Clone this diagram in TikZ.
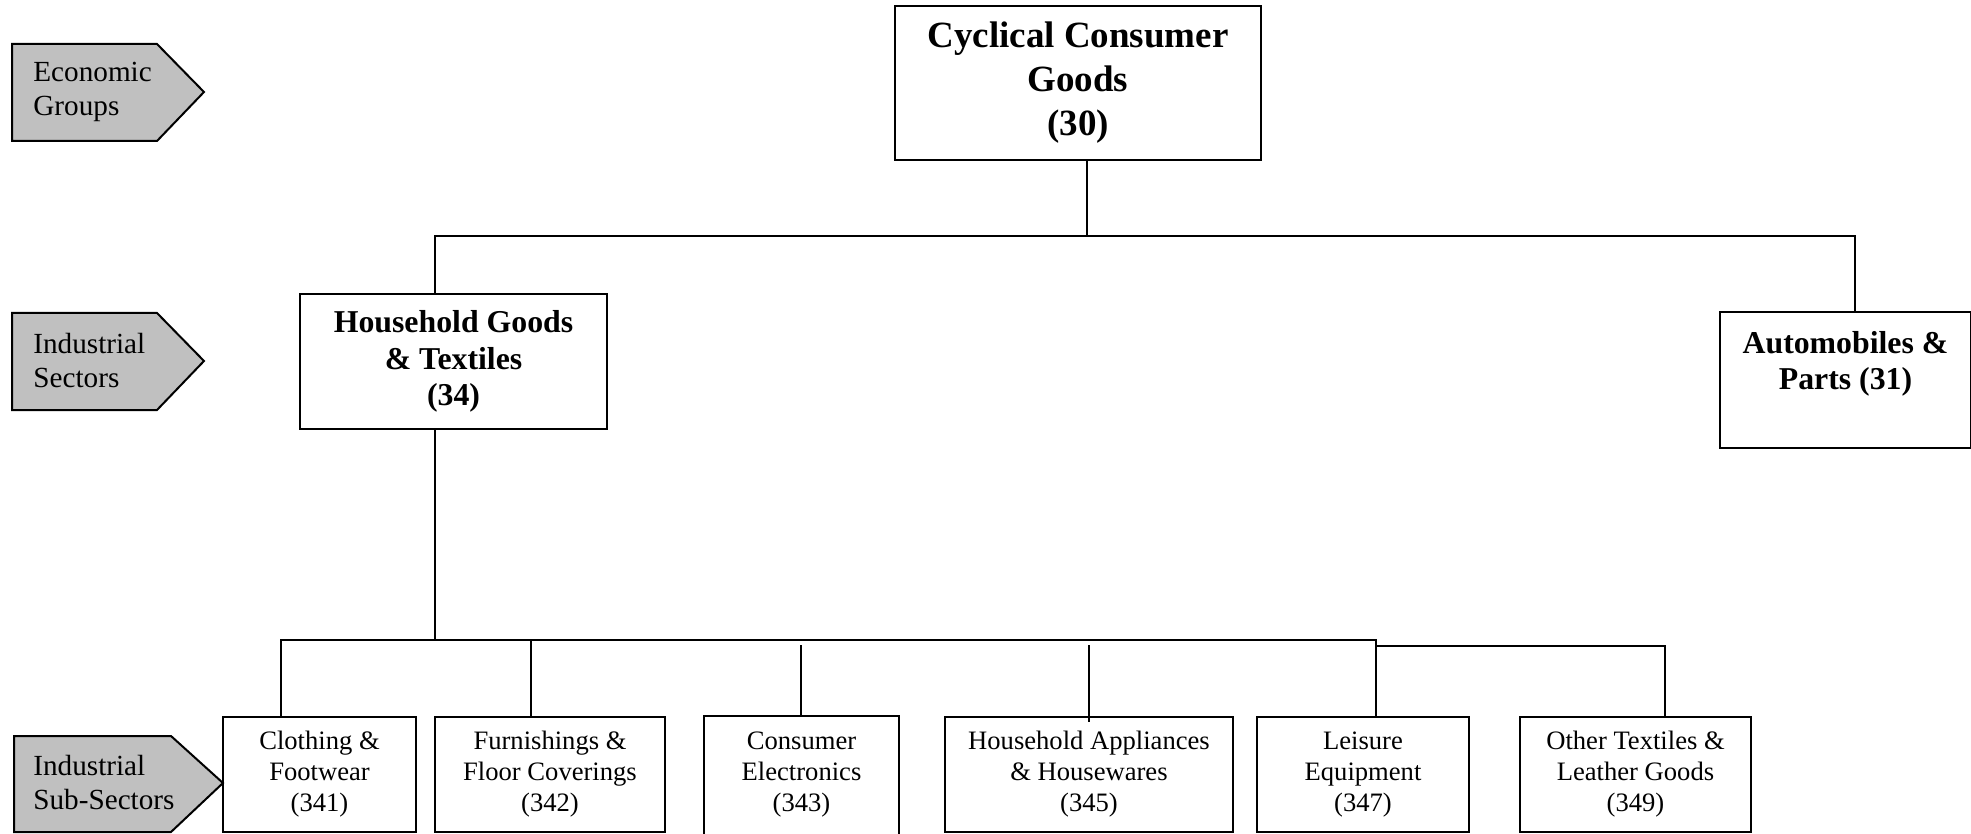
\documentclass[tikz,border=0pt]{standalone}
\usepackage{fontspec}
\setmainfont{Liberation Serif}
\definecolor{tagfill}{RGB}{192,192,192}

\tikzset{
  groupbox/.style={draw, line width=1pt, align=center, inner sep=0pt, font=\fontsize{18.5}{22}\selectfont\bfseries},
  sectorbox/.style={draw, line width=1pt, align=center, inner sep=0pt, font=\fontsize{15.9}{18.3}\selectfont\bfseries},
  subbox/.style={draw, line width=1pt, align=center, inner sep=0pt, minimum height=57.5pt, font=\fontsize{13.3}{15.5}\selectfont},
  tag/.style={draw, line width=1pt, fill=tagfill},
  taglabel/.style={anchor=west, align=left, inner sep=0pt, font=\fontsize{14.6}{17}\selectfont},
  link/.style={line width=0.75pt}
}

\begin{document}
\begin{tikzpicture}[x=0.5pt,y=-0.5pt]
   \useasboundingbox (0,0) rectangle (1971,834);

   % level tags on the left
   \draw[tag] (12,44) -- (157,44) -- (204,92) -- (157,141) -- (12,141) -- cycle;
   \node[taglabel] (econ) at (33,92) {Economic\\Groups};
   \draw[tag] (12,313) -- (157,313) -- (204,361) -- (157,410) -- (12,410) -- cycle;
   \node[taglabel] (indsec) at (33,361) {Industrial\\Sectors};
   \draw[tag] (14,736) -- (171,736) -- (223,783) -- (171,832) -- (14,832) -- cycle;
   \node[taglabel] (indsub) at (33,783) {Industrial\\Sub-Sectors};

   % group and sectors
   \node[groupbox, minimum width=183pt, minimum height=77pt] (cyc) at (1078,83) {Cyclical Consumer\\Goods\\(30)};
   \node[sectorbox, minimum width=153.5pt, minimum height=67.5pt] (hh) at (453.5,361.5) {Household Goods\\\& Textiles\\(34)};
   \node[sectorbox, draw=none, minimum width=124.5pt, minimum height=51pt] (auto) at (1845.5,364) {Automobiles \&\\Parts (31)};
   \draw[line width=1pt] (auto.north west) rectangle ([yshift=-16pt]auto.south east);

   % sub-sectors
   \node[subbox, minimum width=96.5pt] (s341) at (319.5,774.5) {Clothing \&\\Footwear\\(341)};
   \node[subbox, minimum width=115pt] (s342) at (550,774.5) {Furnishings \&\\Floor Coverings\\(342)};
   \node[subbox, draw=none, minimum width=96.5pt] (s343) at (801.5,774.5) {Consumer\\Electronics\\(343)};
   \draw[line width=1pt] ([yshift=-15pt]s343.south west) -- (s343.north west) -- (s343.north east) -- ([yshift=-15pt]s343.south east);
   \node[subbox, minimum width=144pt] (s345) at (1089,774.5) {Household Appliances\\\& Housewares\\(345)};
   \node[subbox, minimum width=106pt] (s347) at (1363,774.5) {Leisure\\Equipment\\(347)};
   \node[subbox, minimum width=115.5pt] (s349) at (1635.5,774.5) {Other Textiles \&\\Leather Goods\\(349)};

   % top bus
   \coordinate (top bus) at (1087,236);
   \coordinate (hh in) at (435,236);
   \coordinate (auto in) at (1855,236);
   \draw[link] (top bus |- cyc.south) -- (top bus);
   \draw[link] (hh in |- hh.north) -- (hh in) -- (auto in) -- (auto in |- auto.north);

   % bottom bus
   \coordinate (sub bus) at (435,640);
   \coordinate (c341) at (281,640);
   \coordinate (c342) at (531,640);
   \coordinate (c343) at (801,645);
   \coordinate (c345) at (1089,645);
   \coordinate (c347) at (1376,640);
   \coordinate (c349a) at (1376,646);
   \coordinate (c349) at (1665,646);
   \draw[link] (sub bus |- hh.south) -- (sub bus);
   \draw[link] (c341 |- s341.north) -- (c341) -- (c347) -- (c347 |- s347.north);
   \draw[link] (c342) -- (c342 |- s342.north);
   \draw[link] (c343) -- (c343 |- s343.north);
   \draw[link] (c345) -- ([yshift=-3pt]c345 |- s345.north);
   \draw[link] (c349a) -- (c349) -- (c349 |- s349.north);
\end{tikzpicture}
\end{document}
